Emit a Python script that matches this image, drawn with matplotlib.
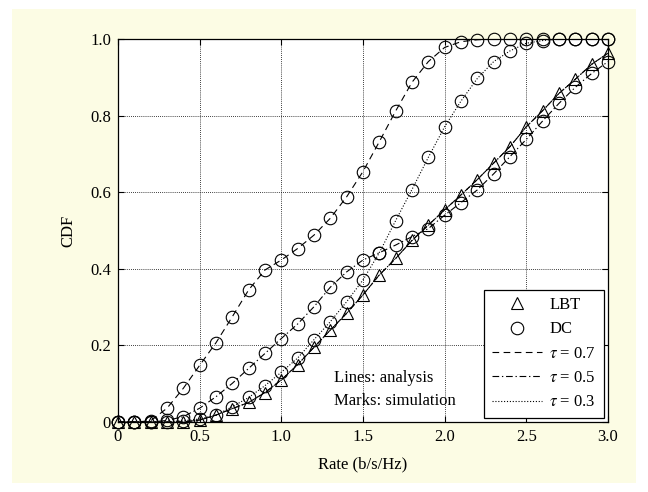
import matplotlib
matplotlib.use('Agg')
from matplotlib import pyplot as plt
from matplotlib.lines import Line2D
from matplotlib.patches import Rectangle

plt.rcParams['font.family'] = ['Liberation Serif', 'DejaVu Serif']
plt.rcParams['mathtext.fontset'] = 'stix'

rate = [i / 10 for i in range(31)]

# LBT does not depend on tau (all three analysis curves coincide)
lbt = [0, 0, 0, 0, 0, 0.005, 0.018, 0.035, 0.051, 0.077, 0.11, 0.15, 0.195, 0.24,
       0.284, 0.332, 0.384, 0.427, 0.474, 0.514, 0.554, 0.593, 0.633, 0.676, 0.719,
       0.771, 0.813, 0.858, 0.895, 0.934, 0.963]

dc_07 = [0, 0, 0.003, 0.036, 0.088, 0.148, 0.207, 0.275, 0.345, 0.397, 0.423, 0.453,
         0.488, 0.532, 0.588, 0.654, 0.732, 0.812, 0.887, 0.941, 0.978, 0.993, 0.998,
         1, 1, 1, 1, 1, 1, 1, 1]
dc_05 = [0, 0, 0, 0.004, 0.014, 0.036, 0.066, 0.101, 0.140, 0.179, 0.218, 0.256,
         0.301, 0.352, 0.392, 0.423, 0.442, 0.462, 0.484, 0.505, 0.540, 0.573, 0.606,
         0.648, 0.693, 0.738, 0.786, 0.832, 0.874, 0.910, 0.941]
dc_03 = [0, 0, 0, 0, 0.003, 0.008, 0.018, 0.04, 0.064, 0.095, 0.13, 0.167, 0.215,
         0.262, 0.314, 0.371, 0.442, 0.526, 0.607, 0.691, 0.771, 0.838, 0.897, 0.941,
         0.969, 0.989, 0.996, 1, 1, 1, 1]

taus = ['0.7', '0.5', '0.3']
dc_curves = [dc_07, dc_05, dc_03]
styles = [(0, (6, 4)), (0, (6, 2.5, 1.2, 2.5)), (0, (1, 1.6))]

fig = plt.figure(figsize=(6.48, 4.92), dpi=100, facecolor='white')
fig.patches.append(Rectangle((12 / 648, 1 - 483 / 492), 624 / 648, 474 / 492,
                             transform=fig.transFigure, fc='#fcfce4', ec='none', zorder=-1))
ax = fig.add_axes([118 / 648, 70 / 492, 490 / 648, 383 / 492])
ax.set_facecolor('white')

mk = dict(ls='none', mfc='none', mec='k', ms=9, mew=0.8)
for ls, dc in zip(styles, dc_curves):
    ax.plot(rate, lbt, color='k', ls=ls, lw=0.7)
    ax.plot(rate, dc, color='k', ls=ls, lw=0.8)
    ax.plot(rate, dc, marker='o', clip_on=False, **mk)
ax.plot(rate, lbt, marker='^', clip_on=False, **mk)

ax.set_xlim(0, 3)
ax.set_ylim(0, 1)
ax.set_xticks([0, 0.5, 1, 1.5, 2, 2.5, 3])
ax.set_xticklabels(['0', '0.5', '1.0', '1.5', '2.0', '2.5', '3.0'])
ax.set_yticks([0, 0.2, 0.4, 0.6, 0.8, 1])
ax.set_yticklabels(['0', '0.2', '0.4', '0.6', '0.8', '1.0'])
ax.tick_params(direction='in', top=True, right=True, labelsize=12, length=4, pad=5)
ax.grid(True, color='k', ls=(0, (1, 1.5)), lw=0.6)
for s in ax.spines.values():
    s.set_linewidth(0.9)

ax.set_xlabel('Rate (b/s/Hz)', fontsize=12, labelpad=8)
ax.set_ylabel('CDF', fontsize=12, labelpad=10)

ax.text(1.32, 0.115, 'Lines: analysis', fontsize=12, va='center')
ax.text(1.32, 0.055, 'Marks: simulation', fontsize=12, va='center')

handles = [Line2D([], [], marker='^', **mk), Line2D([], [], marker='o', **mk)]
labels = ['LBT', 'DC']
for ls, t in zip(styles, taus):
    handles.append(Line2D([], [], color='k', ls=ls, lw=0.8))
    labels.append(r'$\tau$ = ' + t)
leg = ax.legend(handles, labels, loc='lower right', fontsize=12, fancybox=False,
                edgecolor='k', framealpha=1, handlelength=3.0, handletextpad=0.45,
                labelspacing=0.5, borderaxespad=0.25, borderpad=0.45)
leg.get_frame().set_linewidth(0.9)
leg.set_zorder(5)

fig.savefig('out.png', dpi=100)
